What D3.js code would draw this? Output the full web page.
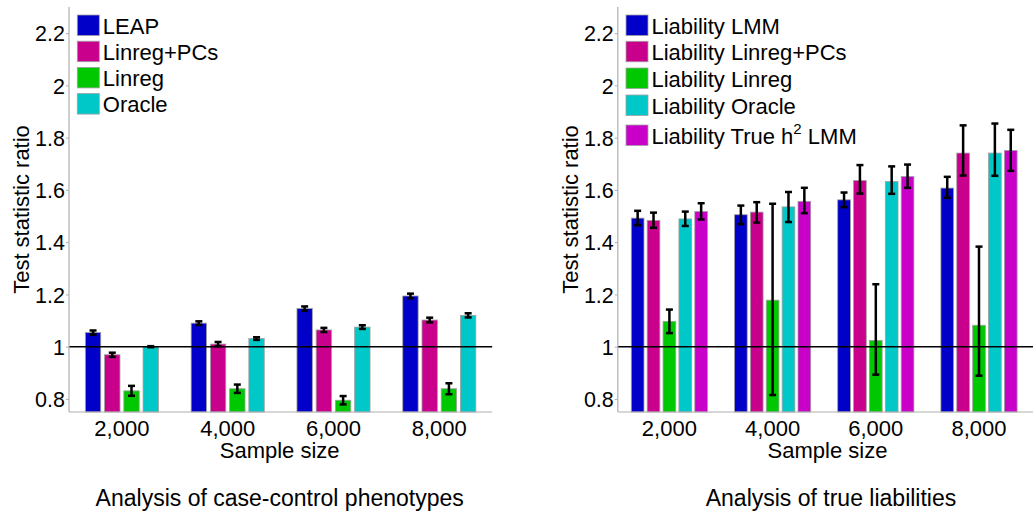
<!DOCTYPE html>
<html>
<head>
<meta charset="utf-8">
<script src="https://cdn.jsdelivr.net/npm/d3@7"></script>
<style>
  html, body { margin: 0; padding: 0; background: #fff; }
  svg { display: block; font-family: "Liberation Sans", Arial, sans-serif; }
</style>
</head>
<body>
<svg id="chart" width="1033" height="511"></svg>
<script>
// ---------- data ----------
const categories = ["2,000", "4,000", "6,000", "8,000"];
const yTicks = [0.8, 1, 1.2, 1.4, 1.6, 1.8, 2, 2.2];
const yTickLabels = ["0.8", "1", "1.2", "1.4", "1.6", "1.8", "2", "2.2"];

// Left panel: case-control phenotypes
const leftNames = ["LEAP", "Linreg+PCs", "Linreg", "Oracle"];
const leapVals      = [1.054, 1.090, 1.146, 1.194];
const linregPCsVals = [0.969, 1.010, 1.064, 1.102];
const linregVals    = [0.831, 0.839, 0.795, 0.839];
const oracleVals    = [1.000, 1.031, 1.075, 1.120];
const leapErr       = [0.008, 0.007, 0.008, 0.009];
const linregPCsErr  = [0.008, 0.008, 0.008, 0.009];
const linregErr     = [0.019, 0.016, 0.016, 0.021];
const oracleErr     = [0.002, 0.005, 0.007, 0.008];

// Right panel: true liabilities
const rightNames = ["Liability LMM", "Liability Linreg+PCs", "Liability Linreg", "Liability Oracle", "Liability True h2 LMM"];
const libLmmVals       = [1.492, 1.505, 1.562, 1.607];
const libLinregPCsVals = [1.483, 1.515, 1.636, 1.741];
const libLinregVals    = [1.097, 1.178, 1.024, 1.082];
const libOracleVals    = [1.489, 1.535, 1.632, 1.741];
const libTrueVals      = [1.517, 1.556, 1.651, 1.751];
const libLmmLo       = [1.465, 1.469, 1.534, 1.570];
const libLmmHi       = [1.520, 1.540, 1.590, 1.650];
const libLinregPCsLo = [1.455, 1.475, 1.586, 1.655];
const libLinregPCsHi = [1.513, 1.553, 1.695, 1.847];
const libLinregLo    = [1.052, 0.815, 0.893, 0.889];
const libLinregHi    = [1.142, 1.547, 1.239, 1.383];
const libOracleLo    = [1.462, 1.477, 1.585, 1.654];
const libOracleHi    = [1.517, 1.592, 1.690, 1.854];
const libTrueLo      = [1.487, 1.511, 1.608, 1.673];
const libTrueHi      = [1.549, 1.608, 1.697, 1.830];

const colorsLeft  = ["#0000c8", "#c8008c", "#00c800", "#00c8c8"];
const colorsRight = ["#0000c8", "#c8008c", "#00c800", "#00c8c8", "#c800c8"];

// ---------- build ----------
const svg = d3.select("#chart");
const FONT = "'Liberation Sans', Arial, sans-serif";

function panel(opts) {
  const { x0, x1, lineEnd, series, colors, names, title, titleX, xLabelX, yLabelX, legendX, legendRows } = opts;
  const top = 7, bottom = 412;
  const y = d3.scaleLinear().domain([0.75, 2.3]).range([bottom, top]);
  const x = d3.scaleBand().domain(categories).range([x0, x1]).padding(0);
  const n = series.length;
  const gw = x.bandwidth() * Math.min(0.8, n / (n + 1.5));
  const inner = d3.scaleBand().domain(d3.range(n)).range([-gw / 2, gw / 2])
    .paddingInner(0.2).paddingOuter(0.1);

  const g = svg.append("g");

  // bars
  series.forEach((s, si) => {
    g.selectAll(null).data(categories).enter().append("rect")
      .attr("x", (c) => x(c) + x.bandwidth() / 2 + inner(si))
      .attr("width", inner.bandwidth())
      .attr("y", (c, i) => y(s.vals[i]))
      .attr("height", (c, i) => bottom - y(s.vals[i]))
      .attr("fill", colors[si])
      .attr("stroke", "#a0a0a0")
      .attr("stroke-width", 0.8);
  });

  // reference line at 1
  g.append("line")
    .attr("x1", x0).attr("x2", lineEnd)
    .attr("y1", y(1)).attr("y2", y(1))
    .attr("stroke", "#000").attr("stroke-width", 1.5);

  // error bars
  const cap = 3.5;
  series.forEach((s, si) => {
    categories.forEach((c, i) => {
      const cx = x(c) + x.bandwidth() / 2 + inner(si) + inner.bandwidth() / 2;
      const ylo = y(s.lo[i]), yhi = y(s.hi[i]);
      g.append("line").attr("x1", cx).attr("x2", cx).attr("y1", ylo).attr("y2", yhi)
        .attr("stroke", "#000").attr("stroke-width", 2.5);
      [ylo, yhi].forEach((yy) => {
        g.append("line").attr("x1", cx - cap).attr("x2", cx + cap).attr("y1", yy).attr("y2", yy)
          .attr("stroke", "#000").attr("stroke-width", 2.5);
      });
    });
  });

  // axes
  g.append("line").attr("x1", x0).attr("x2", x0).attr("y1", top).attr("y2", bottom)
    .attr("stroke", "#b0b0b0").attr("stroke-width", 1.2);
  g.append("line").attr("x1", x0).attr("x2", lineEnd).attr("y1", bottom).attr("y2", bottom)
    .attr("stroke", "#b0b0b0").attr("stroke-width", 1.2);

  const yAxis = d3.axisLeft(y).tickValues(yTicks).tickSize(3).tickPadding(1)
    .tickFormat((d, i) => yTickLabels[i]);
  const ya = g.append("g").attr("transform", `translate(${x0},0)`).call(yAxis);
  ya.select(".domain").remove();
  ya.selectAll(".tick line").attr("stroke", "#b0b0b0");
  ya.selectAll(".tick text").attr("font-size", 21.5).attr("font-family", FONT).attr("fill", "#000")
    .attr("dy", "0.36em");

  const xAxis = d3.axisBottom(x).tickSize(0).tickPadding(0);
  const xa = g.append("g").attr("transform", `translate(0,${bottom})`).call(xAxis);
  xa.select(".domain").remove();
  xa.selectAll(".tick text").attr("font-size", 22).attr("font-family", FONT).attr("fill", "#000")
    .attr("dy", null).attr("y", 23.5);

  // axis labels
  g.append("text").attr("x", xLabelX).attr("y", 457.5).attr("text-anchor", "middle")
    .attr("font-size", 22).attr("fill", "#000").text("Sample size");
  g.append("text").attr("transform", `translate(${yLabelX},${(top + bottom) / 2}) rotate(-90)`)
    .attr("text-anchor", "middle").attr("font-size", 22).attr("fill", "#000")
    .text("Test statistic ratio");

  // title below
  svg.append("text").attr("x", titleX).attr("y", 506).attr("text-anchor", "middle")
    .attr("font-size", 23).attr("fill", "#000").text(title);

  // legend
  names.forEach((nm, i) => {
    const ry = legendRows[i];
    g.append("rect").attr("x", legendX).attr("y", ry).attr("width", 22).attr("height", 20.5)
      .attr("fill", colors[i]).attr("stroke", "#a0a0a0").attr("stroke-width", 0.8);
    const t = g.append("text").attr("x", legendX + 25.5).attr("y", ry + 18.5)
      .attr("font-size", 22).attr("fill", "#000");
    if (nm.endsWith("h2 LMM")) {
      t.append("tspan").text(nm.replace("h2 LMM", "h"));
      t.append("tspan").attr("font-size", 15).attr("dy", -10).text("2");
      t.append("tspan").attr("dy", 10).text(" LMM");
    } else {
      t.text(nm);
    }
  });
}

panel({
  x0: 69, x1: 492.2, lineEnd: 492.2,
  series: [
    { vals: leapVals, lo: leapVals.map((v, i) => v - leapErr[i]), hi: leapVals.map((v, i) => v + leapErr[i]) },
    { vals: linregPCsVals, lo: linregPCsVals.map((v, i) => v - linregPCsErr[i]), hi: linregPCsVals.map((v, i) => v + linregPCsErr[i]) },
    { vals: linregVals, lo: linregVals.map((v, i) => v - linregErr[i]), hi: linregVals.map((v, i) => v + linregErr[i]) },
    { vals: oracleVals, lo: oracleVals.map((v, i) => v - oracleErr[i]), hi: oracleVals.map((v, i) => v + oracleErr[i]) }
  ],
  colors: colorsLeft, names: leftNames,
  title: "Analysis of case-control phenotypes", titleX: 279.7,
  xLabelX: 279.7, yLabelX: 29, legendX: 77.3,
  legendRows: [15, 41.2, 67.4, 93.6]
});

panel({
  x0: 617.8, x1: 1030.6, lineEnd: 1033,
  series: [
    { vals: libLmmVals, lo: libLmmLo, hi: libLmmHi },
    { vals: libLinregPCsVals, lo: libLinregPCsLo, hi: libLinregPCsHi },
    { vals: libLinregVals, lo: libLinregLo, hi: libLinregHi },
    { vals: libOracleVals, lo: libOracleLo, hi: libOracleHi },
    { vals: libTrueVals, lo: libTrueLo, hi: libTrueHi }
  ],
  colors: colorsRight, names: rightNames,
  title: "Analysis of true liabilities", titleX: 831,
  xLabelX: 827.5, yLabelX: 578, legendX: 626,
  legendRows: [15, 41.3, 68, 95, 125]
});
</script>
</body>
</html>
